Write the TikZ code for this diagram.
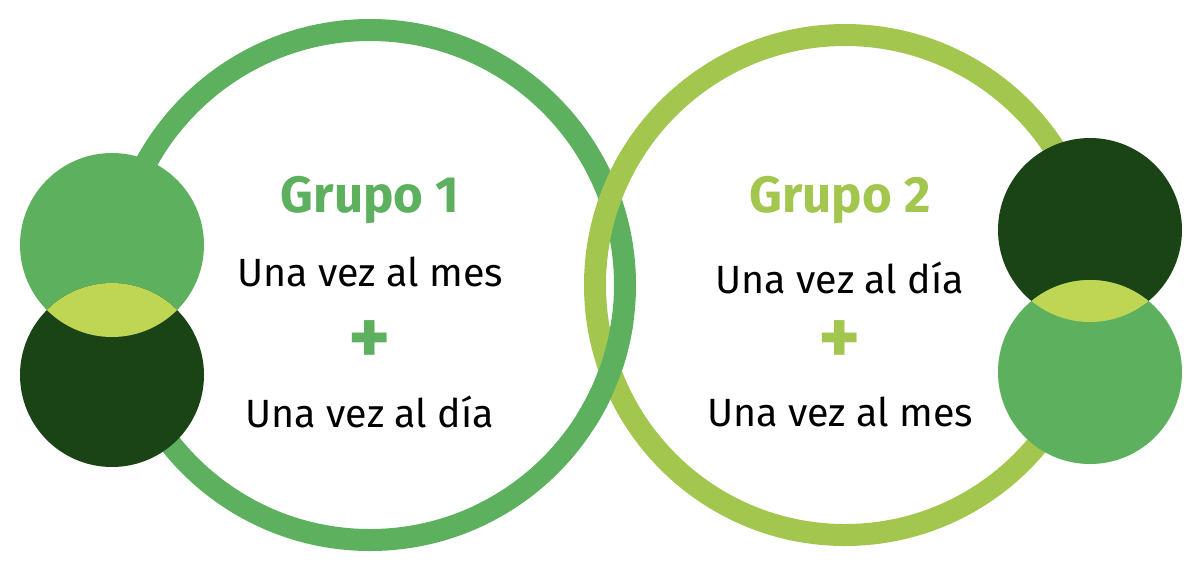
\documentclass[tikz,border=0pt]{standalone}
\usepackage{fontspec}
\setmainfont{Fira Sans}
\definecolor{midgreen}{HTML}{5DB05D}
\definecolor{limegreen}{HTML}{A3C64E}
\definecolor{darkgreen}{HTML}{1B4416}
\definecolor{lensgreen}{HTML}{BFD655}
\tikzstyle{ringline}=[line width=11pt]
\tikzstyle{title}=[font=\fontsize{25.5}{30}\selectfont\bfseries]
\tikzstyle{line}=[font=\fontsize{19.7}{23}\selectfont,text=black]
\tikzstyle{plus}=[font=\fontsize{40}{40}\selectfont\bfseries]
\begin{document}
\begin{tikzpicture}[x=0.5pt,y=-0.5pt]
\useasboundingbox (0,0) rectangle (1196,570);

% rings
\draw[ringline,midgreen] (370,285) circle (255);
\draw[ringline,limegreen] (845,285) circle (250);
\draw[ringline,midgreen] (370,285) ++(8:255) arc (8:32:255);

% left pair
\fill[midgreen] (112,245) circle (92);
\fill[darkgreen] (112,375) circle (92);
\begin{scope}
  \clip (112,245) circle (92);
  \fill[lensgreen] (112,375) circle (92);
\end{scope}

% right pair
\fill[darkgreen] (1090,230) circle (92);
\fill[midgreen] (1090,372) circle (92);
\begin{scope}
  \clip (1090,230) circle (92);
  \fill[lensgreen] (1090,372) circle (92);
\end{scope}

% texts
\node[title,text=midgreen] (g1) at (370,200) {Grupo 1};
\node[line] (g1a) at (370,272) {Una vez al mes};
\node[plus,text=midgreen] (g1p) at (370,343) {+};
\node[line] (g1b) at (370,412) {Una vez al día};

\node[title,text=limegreen] (g2) at (840,200) {Grupo 2};
\node[line] (g2a) at (840,278) {Una vez al día};
\node[plus,text=limegreen] (g2p) at (840,343) {+};
\node[line] (g2b) at (840,412) {Una vez al mes};
\end{tikzpicture}
\end{document}
